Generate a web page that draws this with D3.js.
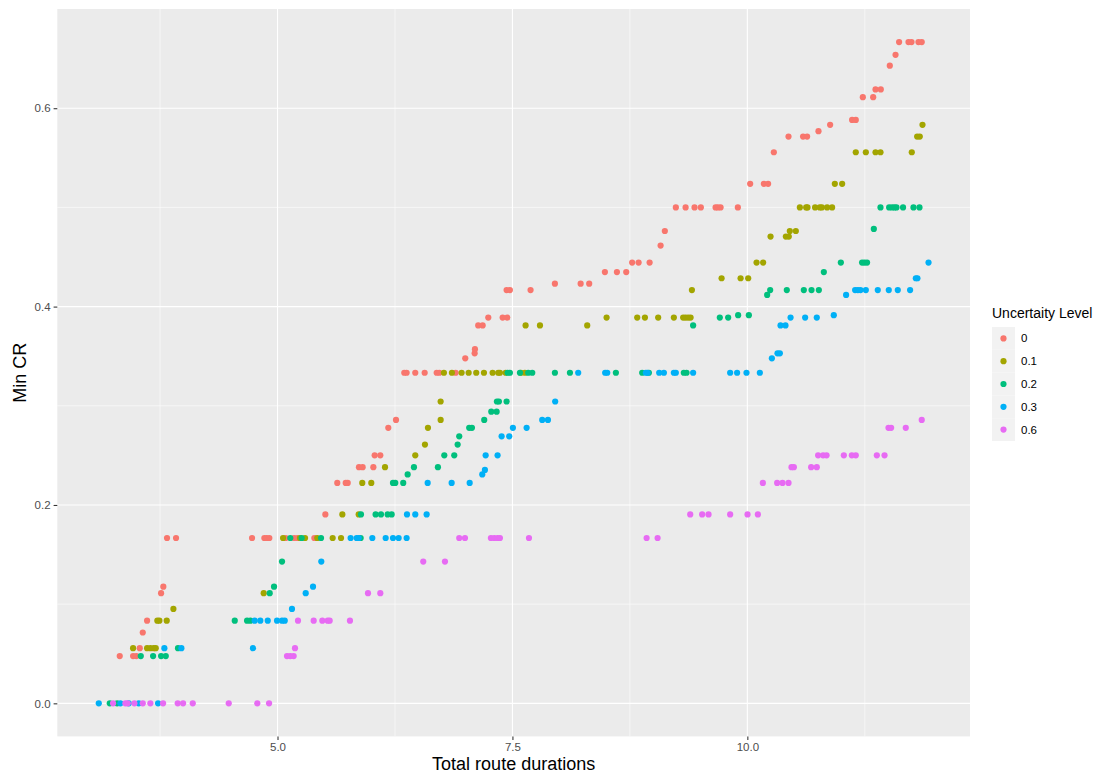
<!DOCTYPE html>
<html>
<head>
<meta charset="utf-8">
<script src="https://cdn.jsdelivr.net/npm/d3@7/dist/d3.min.js"></script>
<style>
  html, body { margin: 0; padding: 0; background: #ffffff; }
  svg { display: block; font-family: "Liberation Sans", Arial, sans-serif; }
</style>
</head>
<body>
<svg id="chart" width="1100" height="776"></svg>
<script>
// Uncertainty levels and their colours (ggplot default hue palette)
const levels = ["0", "0.1", "0.2", "0.3", "0.6"];
const colors = ["#F8766D", "#A3A500", "#00BF7D", "#00B0F6", "#E76BF3"];

// [total route duration, min CR] per uncertainty level
const level0 = [
  [3.321,0.0476],[3.463,0.0476],[3.498,0.0476],[3.534,0.0556],[3.566,0.0714],[3.612,0.0833],[3.761,0.1111],[3.785,0.1176],[3.824,0.1667],[3.92,0.1667],
  [4.729,0.1667],[4.86,0.1667],[4.885,0.1667],[4.913,0.1667],[5.087,0.1667],[5.176,0.1667],[5.211,0.1667],[5.392,0.1667],
  [5.509,0.1905],[5.636,0.2222],[5.726,0.2222],[5.747,0.2222],[5.867,0.2381],[5.906,0.2381],[6.02,0.2381],[6.034,0.25],[6.094,0.25],[6.179,0.2778],[6.261,0.2857],
  [6.349,0.3333],[6.374,0.3333],[6.466,0.3333],[6.566,0.3333],[6.694,0.3333],[6.722,0.3333],[6.896,0.3333],
  [6.998,0.3478],[7.098,0.3529],[7.101,0.3571],[7.136,0.381],[7.183,0.381],[7.243,0.3889],[7.396,0.3889],[7.445,0.3889],[7.438,0.4167],[7.473,0.4167],[7.693,0.4167],
  [7.952,0.4231],[8.226,0.4231],[8.317,0.4231],[8.484,0.4348],[8.612,0.4348],[8.711,0.4348],[8.774,0.4444],[8.843,0.4444],[8.96,0.4444],[9.077,0.4615],[9.122,0.4762],
  [9.239,0.5],[9.343,0.5],[9.438,0.5],[9.505,0.5],[9.662,0.5],[9.686,0.5],[9.715,0.5],[9.899,0.5],[10.03,0.5238],[10.176,0.5238],[10.221,0.5238],[10.282,0.5556],
  [10.438,0.5714],[10.593,0.5714],[10.636,0.5714],[10.757,0.5769],[10.881,0.5833],[11.115,0.5882],[11.154,0.5882],[11.229,0.6111],[11.339,0.6111],[11.364,0.619],[11.42,0.619],
  [11.516,0.6429],[11.577,0.6538],[11.615,0.6667],[11.715,0.6667],[11.747,0.6667],[11.821,0.6667],[11.856,0.6667]
];
const level01 = [
  [3.463,0.0556],[3.612,0.0556],[3.647,0.0556],[3.683,0.0556],[3.704,0.0556],[3.721,0.0833],[3.743,0.0833],[3.821,0.0833],[3.892,0.0952],
  [4.853,0.1111],[5.059,0.1667],[5.239,0.1667],[5.293,0.1667],[5.423,0.1667],[5.587,0.1667],[5.676,0.1667],[5.69,0.1905],[5.864,0.1905],
  [5.902,0.2222],[5.998,0.2222],[6.144,0.2381],[6.466,0.25],[6.569,0.2609],[6.601,0.2778],[6.736,0.2857],[6.736,0.3043],
  [6.771,0.3333],[6.856,0.3333],[6.959,0.3333],[7.034,0.3333],[7.115,0.3333],[7.197,0.3333],[7.289,0.3333],[7.349,0.3333],[7.367,0.3333],[7.428,0.3333],[7.59,0.3333],[7.633,0.3333],
  [7.64,0.381],[7.793,0.381],[8.296,0.381],
  [8.502,0.3889],[8.828,0.3889],[8.91,0.3889],[9.051,0.3889],[9.218,0.3889],[9.317,0.3889],[9.343,0.3889],[9.37,0.3889],[9.396,0.3889],
  [9.41,0.4167],[9.726,0.4286],[9.928,0.4286],[10.009,0.4286],[10.098,0.4444],[10.168,0.4444],
  [10.247,0.4706],[10.41,0.4706],[10.441,0.4706],[10.452,0.4762],[10.516,0.4762],
  [10.559,0.5],[10.626,0.5],[10.64,0.5],[10.721,0.5],[10.771,0.5],[10.793,0.5],[10.849,0.5],[10.902,0.5],
  [10.931,0.5238],[11.009,0.5238],[11.154,0.5556],[11.261,0.5556],[11.364,0.5556],[11.417,0.5556],[11.75,0.5556],[11.807,0.5714],[11.835,0.5714],[11.864,0.5833]
];
const level02 = [
  [3.215,0],[3.293,0],[3.545,0.0476],[3.676,0.0476],[3.761,0.0476],[3.811,0.0476],[3.941,0.0556],
  [4.545,0.0833],[4.676,0.0833],[4.711,0.0833],[4.917,0.1111],[4.963,0.1176],[5.048,0.1429],
  [5.136,0.1667],[5.257,0.1667],[5.463,0.1667],[5.885,0.1667],
  [5.888,0.1905],[6.044,0.1905],[6.101,0.1905],[6.172,0.1905],[6.215,0.1905],
  [6.229,0.2222],[6.253,0.2222],[6.338,0.2222],[6.385,0.2308],[6.452,0.2381],[6.707,0.2381],[6.775,0.25],[6.881,0.25],[6.917,0.2609],[6.934,0.2692],
  [7.04,0.2778],[7.069,0.2778],[7.2,0.2857],[7.275,0.2941],[7.332,0.2941],[7.335,0.3043],[7.356,0.3043],[7.438,0.3043],
  [7.449,0.3333],[7.473,0.3333],[7.58,0.3333],[7.668,0.3333],[7.711,0.3333],[7.952,0.3333],[8.112,0.3333],[8.601,0.3333],[8.881,0.3333],[8.952,0.3333],[9.324,0.3333],[9.353,0.3333],
  [9.423,0.381],[9.707,0.3889],[9.796,0.3889],[9.902,0.3913],[10.016,0.3913],
  [10.211,0.4118],[10.243,0.4167],[10.42,0.4167],[10.601,0.4167],[10.683,0.4167],[10.761,0.4167],[10.814,0.4348],
  [10.995,0.4444],[11.221,0.4444],[11.247,0.4444],[11.274,0.4444],[11.346,0.4783],
  [11.417,0.5],[11.509,0.5],[11.54,0.5],[11.566,0.5],[11.587,0.5],[11.657,0.5],[11.768,0.5],[11.832,0.5]
];
const level03 = [
  [3.098,0],[3.328,0],[3.417,0],[3.523,0],[3.729,0],[3.796,0.0556],[3.977,0.0556],
  [4.739,0.0556],[4.757,0.0833],[4.817,0.0833],[4.896,0.0833],[4.995,0.0833],[5.048,0.0833],[5.077,0.0833],[5.154,0.0952],[5.3,0.1111],[5.378,0.1176],[5.466,0.1429],
  [5.778,0.1667],[5.842,0.1667],[5.864,0.1667],[6.009,0.1667],[6.151,0.1667],[6.229,0.1667],[6.289,0.1667],[6.374,0.1667],
  [6.378,0.1905],[6.466,0.1905],[6.587,0.1905],
  [6.598,0.2222],[6.853,0.2222],[7.045,0.2222],[7.179,0.2308],[7.207,0.2353],[7.215,0.25],[7.342,0.25],[7.385,0.2692],[7.466,0.2692],[7.505,0.2778],[7.651,0.2778],[7.817,0.2857],[7.878,0.2857],[7.955,0.3043],
  [8.2,0.3333],[8.487,0.3333],[8.509,0.3333],[8.92,0.3333],[8.938,0.3333],[9.062,0.3333],[9.112,0.3333],[9.218,0.3333],[9.239,0.3333],[9.423,0.3333],[9.817,0.3333],[9.891,0.3333],[9.991,0.3333],[10.133,0.3333],
  [10.261,0.3478],[10.321,0.3529],[10.346,0.3529],[10.353,0.381],[10.406,0.381],[10.46,0.3889],[10.615,0.3889],[10.739,0.3889],[10.92,0.3913],[11.051,0.4118],
  [11.147,0.4167],[11.176,0.4167],[11.204,0.4167],[11.261,0.4167],[11.388,0.4167],[11.505,0.4167],[11.601,0.4167],[11.732,0.4167],[11.793,0.4286],[11.81,0.4286],[11.928,0.4444]
];
const level06 = [
  [3.25,0],[3.381,0],[3.406,0],[3.477,0],[3.566,0],[3.647,0],[3.782,0],[3.938,0],[3.995,0],[4.098,0],[4.481,0],[4.785,0],[4.91,0],
  [5.101,0.0476],[5.136,0.0476],[5.172,0.0476],[5.186,0.0556],
  [5.218,0.0833],[5.385,0.0833],[5.477,0.0833],[5.534,0.0833],[5.555,0.0833],[5.771,0.0833],
  [5.963,0.1111],[6.094,0.1111],[6.551,0.1429],[6.782,0.1429],
  [6.934,0.1667],[6.995,0.1667],[7.271,0.1667],[7.307,0.1667],[7.342,0.1667],[7.367,0.1667],[7.676,0.1667],[8.928,0.1667],[9.045,0.1667],
  [9.392,0.1905],[9.519,0.1905],[9.587,0.1905],[9.817,0.1905],[10.002,0.1905],[10.112,0.1905],
  [10.165,0.2222],[10.317,0.2222],[10.374,0.2222],[10.438,0.2222],
  [10.47,0.2381],[10.495,0.2381],[10.679,0.2381],[10.739,0.2381],
  [10.753,0.25],[10.806,0.25],[10.843,0.25],[11.027,0.25],[11.112,0.25],[11.154,0.25],[11.378,0.25],[11.46,0.25],
  [11.502,0.2778],[11.53,0.2778],[11.686,0.2778],[11.856,0.2857]
];
const seriesValues = [level0, level01, level02, level03, level06];

const xTicks = [5.0, 7.5, 10.0];
const xMinor = [3.75, 6.25, 8.75, 11.25];
const yTicks = [0.0, 0.2, 0.4, 0.6];
const yMinor = [0.1, 0.3, 0.5];
const xTitle = "Total route durations";
const yTitle = "Min CR";
const legendTitle = "Uncertaity Level";

// Panel geometry
const panel = { left: 57.3, right: 970, top: 9, bottom: 736.4 };

const all = seriesValues.flat();
function expanded(ext) {
  const pad = (ext[1] - ext[0]) * 0.05;
  return [ext[0] - pad, ext[1] + pad];
}
const x = d3.scaleLinear()
  .domain(expanded(d3.extent(all, d => d[0])))
  .range([panel.left, panel.right]);
const y = d3.scaleLinear()
  .domain(expanded(d3.extent(all, d => d[1])))
  .range([panel.bottom, panel.top]);

const svg = d3.select("#chart");

// Panel background
svg.append("rect")
  .attr("x", panel.left).attr("y", panel.top)
  .attr("width", panel.right - panel.left)
  .attr("height", panel.bottom - panel.top)
  .attr("fill", "#EBEBEB");

const grid = svg.append("g");
// minor grid
grid.selectAll("line.xminor").data(xMinor).join("line")
  .attr("x1", d => x(d)).attr("x2", d => x(d))
  .attr("y1", panel.top).attr("y2", panel.bottom)
  .attr("stroke", "#fff").attr("stroke-width", 0.55);
grid.selectAll("line.yminor").data(yMinor).join("line")
  .attr("class", "yminor")
  .attr("y1", d => y(d)).attr("y2", d => y(d))
  .attr("x1", panel.left).attr("x2", panel.right)
  .attr("stroke", "#fff").attr("stroke-width", 0.55);
// major grid
grid.selectAll("line.xmajor").data(xTicks).join("line")
  .attr("class", "xmajor")
  .attr("x1", d => x(d)).attr("x2", d => x(d))
  .attr("y1", panel.top).attr("y2", panel.bottom)
  .attr("stroke", "#fff").attr("stroke-width", 1.1);
grid.selectAll("line.ymajor").data(yTicks).join("line")
  .attr("class", "ymajor")
  .attr("y1", d => y(d)).attr("y2", d => y(d))
  .attr("x1", panel.left).attr("x2", panel.right)
  .attr("stroke", "#fff").attr("stroke-width", 1.1);

// Axes
const xAxis = d3.axisBottom(x).tickValues(xTicks).tickFormat(d3.format(".1f"))
  .tickSizeInner(3.7).tickSizeOuter(0).tickPadding(3);
const yAxis = d3.axisLeft(y).tickValues(yTicks).tickFormat(d3.format(".1f"))
  .tickSizeInner(3.7).tickSizeOuter(0).tickPadding(3);

const gx = svg.append("g").attr("transform", `translate(0,${panel.bottom})`).call(xAxis);
const gy = svg.append("g").attr("transform", `translate(${panel.left},0)`).call(yAxis);
[gx, gy].forEach(g => {
  g.select(".domain").remove();
  g.selectAll(".tick line").attr("stroke", "#333333").attr("stroke-width", 1.07);
  g.selectAll(".tick text").attr("fill", "#4D4D4D")
    .style("font-size", "11.5px").style("font-family", "Liberation Sans, Arial, sans-serif");
});

// Points
const layer = svg.append("g");
seriesValues.forEach((vals, i) => {
  layer.append("g").selectAll("circle").data(vals).join("circle")
    .attr("cx", d => x(d[0]))
    .attr("cy", d => y(d[1]))
    .attr("r", 3.1)
    .attr("fill", colors[i]);
});

// Axis titles
svg.append("text")
  .attr("x", (panel.left + panel.right) / 2)
  .attr("y", 770)
  .attr("text-anchor", "middle")
  .style("font-size", "18px")
  .attr("fill", "#000")
  .text(xTitle);
svg.append("text")
  .attr("transform", `translate(26,${(panel.top + panel.bottom) / 2}) rotate(-90)`)
  .attr("text-anchor", "middle")
  .style("font-size", "18px")
  .attr("fill", "#000")
  .text(yTitle);

// Legend
const legend = svg.append("g").attr("transform", "translate(992,0)");
legend.append("text")
  .attr("x", 0).attr("y", 318)
  .style("font-size", "14px")
  .attr("fill", "#000")
  .text(legendTitle);
const keyH = 22.8;
const keyTop = 327;
const keys = legend.selectAll("g.key").data(levels).join("g")
  .attr("class", "key")
  .attr("transform", (d, i) => `translate(0,${keyTop + i * keyH})`);
keys.append("rect")
  .attr("width", 23).attr("height", keyH)
  .attr("fill", "#F2F2F2");
keys.append("circle")
  .attr("cx", 11.5).attr("cy", keyH / 2)
  .attr("r", 3.1)
  .attr("fill", (d, i) => colors[i]);
keys.append("text")
  .attr("x", 29).attr("y", keyH / 2 + 4)
  .style("font-size", "11.5px")
  .attr("fill", "#000")
  .text(d => d);
</script>
</body>
</html>
